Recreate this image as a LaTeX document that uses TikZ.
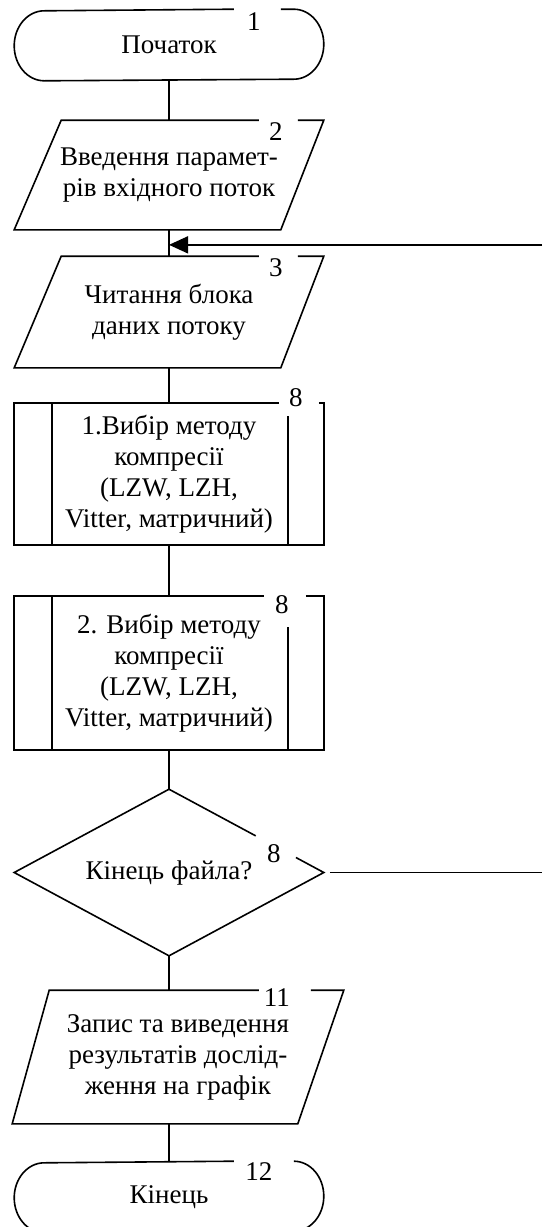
\documentclass[tikz,border=0pt]{standalone}
\usepackage{fontspec}
\setmainfont{Liberation Serif}
\usetikzlibrary{calc,positioning,arrows.meta}

\begin{document}
\begin{tikzpicture}[x=0.5pt,y=0.5pt,line width=0.8pt,
	blk/.style={align=center,inner sep=0pt,minimum width=154pt,font=\fontsize{13.5}{15.5}\selectfont},
	num/.style={inner sep=0pt,font=\fontsize{13.5}{15.5}\selectfont}]
	\useasboundingbox (0,0) rectangle (542,-1227);
	% text of the blocks
	\node[blk,minimum height=35pt] (start) at (169,-45) {Початок};
	\node[blk,minimum height=54pt] (input) at (169,-175) {Введення парамет-\\рів вхідного поток};
	\node[blk,minimum height=55pt] (read) at (169,-312) {Читання блока\\даних потоку};
	\node[blk,minimum height=70pt] (sel1) at (169,-474) {1.Вибір методу\\компресії\\(LZW, LZH,\\Vitter, матричний)};
	\node[blk,minimum height=76pt] (sel2) at (169,-673) {2. Вибір методу\\компресії\\(LZW, LZH,\\Vitter, матричний)};
	\node[blk,minimum height=82.5pt] (eof) at (169,-872.5) {Кінець файла?};
	\node[blk,minimum width=165pt,minimum height=66pt] (out) at (178,-1057) {Запис та виведення\\результатів дослід-\\ження на графік};
	\node[blk,minimum height=35pt] (stop) at (169,-1197) {Кінець};
	% outlines
	\foreach \n/\g/\h in {start/43/90,stop/30/90}
		\draw ($(\n.north east)+(-\g,0)$) -- ($(\n.north east)+(-30,0)$) arc[start angle=90,end angle=-90,x radius=30,y radius=35] -- ($(\n.south west)+(30,0)$) arc[start angle=270,end angle=90,x radius=30,y radius=35] -- ($(\n.north east)+(-\h,0)$);
	\foreach \n/\gr/\br/\tl/\gl in {input/26/43/47/65,read/26/43/47/65,out/33/46/37/85}
		\draw ($(\n.north east)+(-\gr,0)$) -- (\n.north east) -- ($(\n.south east)+(-\br,0)$) -- (\n.south west) -- ($(\n.north west)+(\tl,0)$) -- ($(\n.north east)+(-\gl,0)$);
	\foreach \n/\gl/\gr/\d in {sel1/45/5/13,sel2/60/18/31}{
		\draw ($(\n.north east)+(-\gr,0)$) -- (\n.north east) -- (\n.south east) -- (\n.south west) -- (\n.north west) -- ($(\n.north east)+(-\gl,0)$);
		\draw ($(\n.north west)+(38,0)$) -- ($(\n.south west)+(38,0)$);
		\draw ($(\n.north east)+(-36,-\d)$) -- ($(\n.south east)+(-36,0)$);
	}
	\draw ($(eof.north)!0.82!(eof.east)$) -- (eof.east) -- (eof.south) -- (eof.west) -- (eof.north) -- ($(eof.north)!0.56!(eof.east)$);
	% block numbers
	\node[num] at ($(start.north east)+(-70,-12)$) {1};
	\node[num] at ($(input.north east)+(-48,-11)$) {2};
	\node[num] at ($(read.north east)+(-48,-11)$) {3};
	\node[num] at ($(sel1.north east)+(-28,6)$) {8};
	\node[num] at ($(sel2.north east)+(-42,-8)$) {8};
	\node[num] at ($(eof.east)+(-50,19)$) {8};
	\node[num] at ($(out.north east)+(-67,-7)$) {11};
	\node[num] at ($(stop.north east)+(-65,-10)$) {12};
	% connectors
	\coordinate (join) at ($(input.south)!0.57!(read.north)$);
	\coordinate (back) at (542,0);
	\draw (start.south) -- (input.north);
	\draw (input.south) -- (read.north);
	\draw[-{Triangle[length=9.5pt,width=8.5pt]}] (back |- join) -- (join);
	\draw (read.south) -- (sel1.north);
	\draw (sel1.south) -- (sel2.north);
	\draw (sel2.south) -- (eof.north);
	\draw[shorten <=3pt] (eof.east) -- (eof.east -| back);
	\draw (eof.south) -- (eof.south |- out.north);
	\draw (stop.north |- out.south) -- (stop.north);
\end{tikzpicture}
\end{document}
